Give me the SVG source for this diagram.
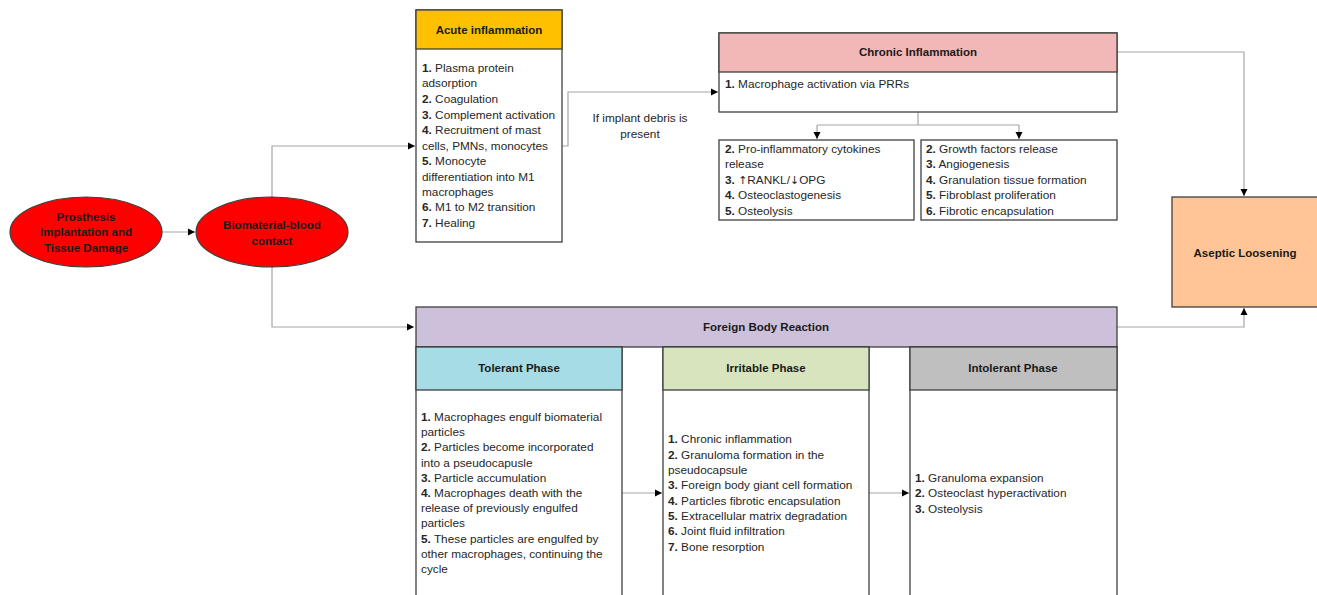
<svg xmlns="http://www.w3.org/2000/svg" width="1317" height="595" viewBox="0 0 1317 595">
<defs>
<marker id="ah" markerWidth="8" markerHeight="8" refX="7" refY="4" orient="auto" markerUnits="userSpaceOnUse">
<path d="M0,0.5 L7,4 L0,7.5 Z" fill="#000"/>
</marker>
<style>
.box{fill:#fff;stroke:#3f3f3f;stroke-width:1.3}
.t{font-family:"Liberation Sans",Arial,sans-serif;font-size:11.8px;fill:#262626}
.h{font-family:"Liberation Sans",Arial,sans-serif;font-size:11.5px;font-weight:bold;fill:#1a1a1a}
.c{text-anchor:middle}
.b{font-weight:bold}
.ar{font-family:"DejaVu Sans",sans-serif;font-size:11px}
.con{fill:none;stroke:#a6a6a6;stroke-width:1.2}
</style>
</defs>
<rect width="1317" height="595" fill="#fff"/>

<g id="connectors">
<path class="con" d="M162,232 H195" marker-end="url(#ah)"/>
<path class="con" d="M272,197 V146 H415" marker-end="url(#ah)"/>
<path class="con" d="M272,267 V327 H414" marker-end="url(#ah)"/>
<path class="con" d="M562,146 H568 V92 H718" marker-end="url(#ah)"/>
<path class="con" d="M918,112 V125 M817,125 H1019 M817,125 V139" marker-end="url(#ah)"/>
<path class="con" d="M1019,125 V139" marker-end="url(#ah)"/>
<path class="con" d="M1117,52 H1244 V196" marker-end="url(#ah)"/>
<path class="con" d="M1117,327 H1244 V308" marker-end="url(#ah)"/>
<path class="con" d="M622,493 H662" marker-end="url(#ah)"/>
<path class="con" d="M869,493 H909" marker-end="url(#ah)"/>
<text class="t c" x="640" y="122">If implant debris is</text>
<text class="t c" x="640" y="138">present</text>
</g>

<g id="prosthesis">
<ellipse cx="86" cy="232" rx="76" ry="35" fill="#ff0000" stroke="#3f3f3f" stroke-width="1.2"/>
<text class="h c" x="86" y="221">Prosthesis</text>
<text class="h c" x="86" y="236">Implantation and</text>
<text class="h c" x="86" y="252">Tissue Damage</text>
</g>

<g id="biomaterial">
<ellipse cx="272" cy="232" rx="76" ry="35" fill="#ff0000" stroke="#3f3f3f" stroke-width="1.2"/>
<text class="h c" x="272" y="229">Biomaterial-blood</text>
<text class="h c" x="272" y="245">contact</text>
</g>

<g id="acute">
<rect class="box" x="416" y="10" width="146" height="232"/>
<rect x="416" y="10" width="146" height="39" fill="#ffc000" stroke="#3f3f3f" stroke-width="1.3"/>
<text class="h c" x="489" y="34">Acute inflammation</text>
<text class="t" x="422">
<tspan x="422" y="72"><tspan class="b">1.</tspan> Plasma protein</tspan>
<tspan x="422" y="87">adsorption</tspan>
<tspan x="422" y="103"><tspan class="b">2.</tspan> Coagulation</tspan>
<tspan x="422" y="119"><tspan class="b">3.</tspan> Complement activation</tspan>
<tspan x="422" y="134"><tspan class="b">4.</tspan> Recruitment of mast</tspan>
<tspan x="422" y="150">cells, PMNs, monocytes</tspan>
<tspan x="422" y="165"><tspan class="b">5.</tspan> Monocyte</tspan>
<tspan x="422" y="181">differentiation into M1</tspan>
<tspan x="422" y="196">macrophages</tspan>
<tspan x="422" y="211"><tspan class="b">6.</tspan> M1 to M2 transition</tspan>
<tspan x="422" y="227"><tspan class="b">7.</tspan> Healing</tspan>
</text>
</g>

<g id="chronic">
<rect class="box" x="719" y="33" width="398" height="79"/>
<rect x="719" y="33" width="398" height="39" fill="#f2b8b8" stroke="#3f3f3f" stroke-width="1.3"/>
<text class="h c" x="918" y="56">Chronic Inflammation</text>
<text class="t" x="725" y="88"><tspan class="b">1.</tspan> Macrophage activation via PRRs</text>
</g>

<g id="chronic-left">
<rect class="box" x="719" y="140" width="195" height="80"/>
<text class="t">
<tspan x="725" y="153"><tspan class="b">2.</tspan> Pro-inflammatory cytokines</tspan>
<tspan x="725" y="168">release</tspan>
<tspan x="725" y="184"><tspan class="b">3.</tspan> <tspan class="ar">↑</tspan>RANKL/<tspan class="ar">↓</tspan>OPG</tspan>
<tspan x="725" y="199"><tspan class="b">4.</tspan> Osteoclastogenesis</tspan>
<tspan x="725" y="215"><tspan class="b">5.</tspan> Osteolysis</tspan>
</text>
</g>

<g id="chronic-right">
<rect class="box" x="921" y="140" width="196" height="80"/>
<text class="t">
<tspan x="926" y="153"><tspan class="b">2.</tspan> Growth factors release</tspan>
<tspan x="926" y="168"><tspan class="b">3.</tspan> Angiogenesis</tspan>
<tspan x="926" y="184"><tspan class="b">4.</tspan> Granulation tissue formation</tspan>
<tspan x="926" y="199"><tspan class="b">5.</tspan> Fibroblast proliferation</tspan>
<tspan x="926" y="215"><tspan class="b">6.</tspan> Fibrotic encapsulation</tspan>
</text>
</g>

<g id="aseptic">
<rect x="1172" y="197" width="146" height="110" fill="#ffc597" stroke="#3f3f3f" stroke-width="1.3"/>
<text class="h c" x="1245" y="257">Aseptic Loosening</text>
</g>

<g id="fbr">
<rect x="416" y="307" width="701" height="40" fill="#ccc0da" stroke="#3f3f3f" stroke-width="1.3"/>
<text class="h c" x="766" y="331">Foreign Body Reaction</text>
</g>

<g id="tolerant">
<rect class="box" x="416" y="347" width="206" height="260"/>
<rect x="416" y="347" width="206" height="43" fill="#a5dce5" stroke="#3f3f3f" stroke-width="1.3"/>
<text class="h c" x="519" y="372">Tolerant Phase</text>
<text class="t">
<tspan x="421" y="421"><tspan class="b">1.</tspan> Macrophages engulf biomaterial</tspan>
<tspan x="421" y="436">particles</tspan>
<tspan x="421" y="451"><tspan class="b">2.</tspan> Particles become incorporated</tspan>
<tspan x="421" y="467">into a pseudocapusle</tspan>
<tspan x="421" y="482"><tspan class="b">3.</tspan> Particle accumulation</tspan>
<tspan x="421" y="497"><tspan class="b">4.</tspan> Macrophages death with the</tspan>
<tspan x="421" y="512">release of previously engulfed</tspan>
<tspan x="421" y="527">particles</tspan>
<tspan x="421" y="543"><tspan class="b">5.</tspan> These particles are engulfed by</tspan>
<tspan x="421" y="558">other macrophages, continuing the</tspan>
<tspan x="421" y="573">cycle</tspan>
</text>
</g>

<g id="irritable">
<rect class="box" x="663" y="347" width="206" height="260"/>
<rect x="663" y="347" width="206" height="43" fill="#d7e4bd" stroke="#3f3f3f" stroke-width="1.3"/>
<text class="h c" x="766" y="372">Irritable Phase</text>
<text class="t">
<tspan x="668" y="443"><tspan class="b">1.</tspan> Chronic inflammation</tspan>
<tspan x="668" y="459"><tspan class="b">2.</tspan> Granuloma formation in the</tspan>
<tspan x="668" y="474">pseudocapsule</tspan>
<tspan x="668" y="489"><tspan class="b">3.</tspan> Foreign body giant cell formation</tspan>
<tspan x="668" y="505"><tspan class="b">4.</tspan> Particles fibrotic encapsulation</tspan>
<tspan x="668" y="520"><tspan class="b">5.</tspan> Extracellular matrix degradation</tspan>
<tspan x="668" y="535"><tspan class="b">6.</tspan> Joint fluid infiltration</tspan>
<tspan x="668" y="551"><tspan class="b">7.</tspan> Bone resorption</tspan>
</text>
</g>

<g id="intolerant">
<rect class="box" x="910" y="347" width="207" height="260"/>
<rect x="910" y="347" width="207" height="43" fill="#bfbfbf" stroke="#3f3f3f" stroke-width="1.3"/>
<text class="h c" x="1013" y="372">Intolerant Phase</text>
<text class="t">
<tspan x="915" y="482"><tspan class="b">1.</tspan> Granuloma expansion</tspan>
<tspan x="915" y="497"><tspan class="b">2.</tspan> Osteoclast hyperactivation</tspan>
<tspan x="915" y="513"><tspan class="b">3.</tspan> Osteolysis</tspan>
</text>
</g>
</svg>
